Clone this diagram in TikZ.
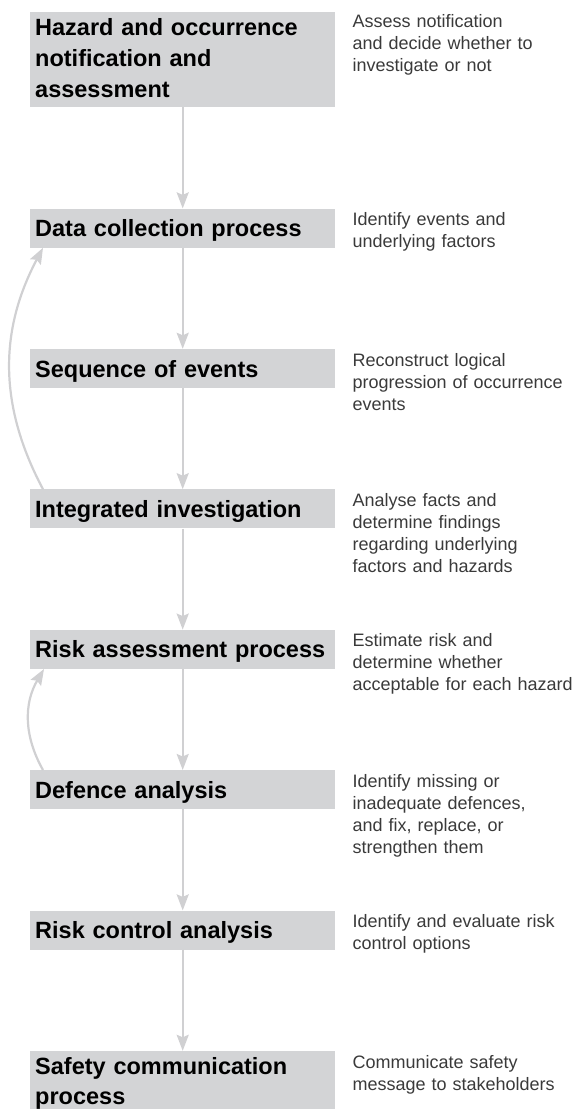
\documentclass[tikz,border=0pt]{standalone}
\usepackage{fontspec}
\setmainfont{Liberation Sans}
\usepackage{tikz}
\usetikzlibrary{arrows.meta,positioning}

\definecolor{boxgray}{HTML}{D3D4D6}
\definecolor{linegray}{HTML}{D0D0D2}
\definecolor{notegray}{HTML}{3A3A3A}

\begin{document}
\begin{tikzpicture}[x=1pt,y=-1pt,->,>={Stealth[width=12pt,length=16pt,inset=2.5pt]},
                    node distance=101pt]
  \tikzstyle{stage}=[fill=boxgray,text=black,text width=295pt,align=left,
                     inner xsep=5pt,inner ysep=0pt,text height=28pt,text depth=11pt,
                     font=\bfseries\fontsize{23.5}{31}\selectfont]
  \tikzstyle{note}=[text=notegray,text width=230pt,align=left,inner sep=0pt,
                    font=\fontsize{18}{22}\selectfont]
  \tikzstyle{every edge}=[draw=linegray,line width=2.2pt]

  \useasboundingbox (0,0) rectangle (573,1109);

  % process steps
  \node[stage,anchor=north west,text height=24pt,text depth=71.5pt] (A) at (30,11.5)
       {Hazard and occurrence\\notification and\\assessment};
  \node[stage] (B) [below=of A] {Data collection process};
  \node[stage] (C) [below=of B] {Sequence of events};
  \node[stage] (D) [below=of C] {Integrated investigation};
  \node[stage] (E) [below=of D] {Risk assessment process};
  \node[stage] (F) [below=of E] {Defence analysis};
  \node[stage] (G) [below=of F] {Risk control analysis};
  \node[stage,text height=23.5pt,text depth=38pt,
        font=\bfseries\fontsize{23.5}{29.5}\selectfont] (H) [below=of G]
       {Safety communication\\process};

  % what each step does
  \node[note] (a) [below right=3pt and 17pt of A.north east]
       {Assess notification\\and decide whether to\\investigate or not};
  \node[note] (b) [below right=4pt and 17pt of B.north east]
       {Identify events and\\underlying factors};
  \node[note] (c) [below right=4pt and 17pt of C.north east]
       {Reconstruct logical\\progression of occurrence\\events};
  \node[note] (d) [below right=4pt and 17pt of D.north east]
       {Analyse facts and\\determine findings\\regarding underlying\\factors and hazards};
  \node[note] (e) [below right=4pt and 17pt of E.north east]
       {Estimate risk and\\determine whether\\acceptable for each hazard};
  \node[note] (f) [below right=4pt and 17pt of F.north east]
       {Identify missing or\\inadequate defences,\\and fix, replace, or\\strengthen them};
  \node[note] (g) [below right=4pt and 17pt of G.north east]
       {Identify and evaluate risk\\control options};
  \node[note] (h) [below right=4pt and 17pt of H.north east]
       {Communicate safety\\message to stakeholders};

  \path (A) edge (B)
        (B) edge (C)
        (C) edge (D)
        (D) edge (E)
        (E) edge (F)
        (F) edge (G)
        (G) edge (H)
        ([xshift=13pt]D.north west) edge [bend left=28] ([xshift=13pt]B.south west)
        ([xshift=13pt]F.north west) edge [bend left=30] ([xshift=14pt]E.south west);
\end{tikzpicture}
\end{document}
